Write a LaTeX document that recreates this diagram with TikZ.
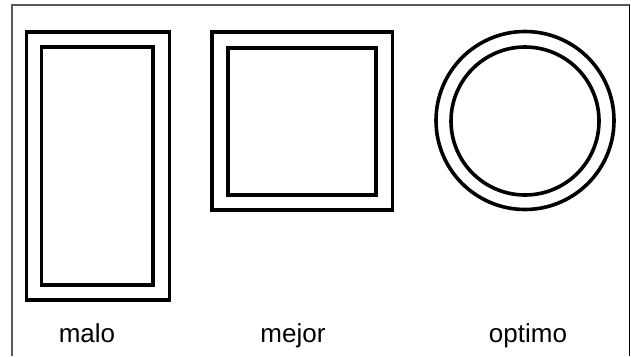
\documentclass[tikz,border=0pt]{standalone}
\usepackage{fontspec}
\setmainfont{Liberation Sans}
\begin{document}
\begin{tikzpicture}[x=1pt,y=-1pt,
  outline/.style={draw=black,line width=3.6pt,line join=miter},
  lbl/.style={anchor=base,inner sep=0pt,font=\fontsize{26}{30}\selectfont}]
\useasboundingbox[fill=white] (0,0) rectangle (631,356);
% frame
\draw[gray!70!black,line width=1.6pt] (12,356) -- (12,5) -- (629.5,5);
\draw[black,line width=1pt] (629.5,5) -- (629.5,356);
% malo
\draw[outline] (26.5,32) rectangle (169.5,300);
\draw[outline] (41.5,47) rectangle (153,285);
% mejor
\draw[outline] (212,32) rectangle (392.5,210);
\draw[outline] (227.7,47.7) rectangle (375.7,195);
% optimo
\draw[outline] (525,120.5) circle[radius=89pt];
\draw[outline] (525,121) circle[radius=74pt];
% labels
\node[lbl] (malo) at (87,342) {malo};
\node[lbl] (mejor) at (293,342) {mejor};
\node[lbl] (optimo) at (528,342) {optimo};
\end{tikzpicture}
\end{document}
